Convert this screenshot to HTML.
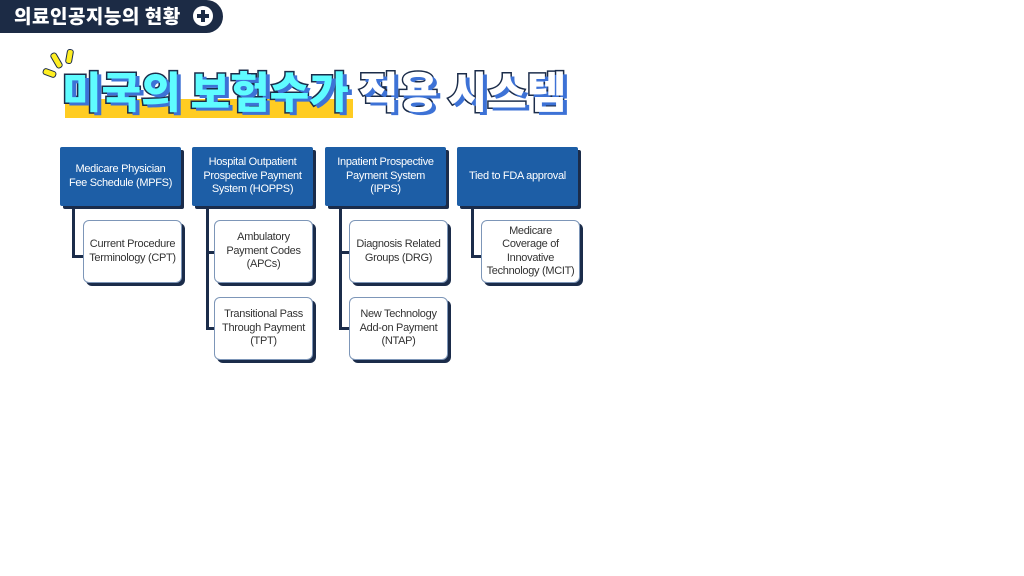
<!DOCTYPE html>
<html><head><meta charset="utf-8"><style>
body{margin:0;width:1024px;height:576px;background:#fff;position:relative;overflow:hidden;font-family:"Liberation Sans","Noto Sans CJK KR",sans-serif}
.tab{position:absolute;left:0;top:0;width:223px;height:33px;background:#1c2b45;border-radius:0 17px 17px 0}
.tab span{position:absolute;left:14px;top:3px;color:#fff;font-family:"Noto Sans CJK KR",sans-serif;font-weight:900;font-size:19px;letter-spacing:0.5px;line-height:26px}
.plus{position:absolute;left:193px;top:6px;width:20px;height:20px;border-radius:50%;background:#fff}
.plus:before{content:"";position:absolute;left:4px;top:8px;width:12px;height:4px;background:#1c2b45}
.plus:after{content:"";position:absolute;left:8px;top:4px;width:4px;height:12px;background:#1c2b45}
.bar{position:absolute;left:65px;top:99px;width:288px;height:19px;background:#ffcc22}
.title{position:absolute;left:62px;top:60px;font-family:"Noto Sans CJK KR",sans-serif;font-weight:900;font-size:43px;line-height:60px;letter-spacing:0px;white-space:nowrap;-webkit-text-stroke:3px #1b2c4a;paint-order:stroke fill;text-shadow:4px 3px 0 #3d72d6}
.c{color:#5ffcff}.w{color:#fff}
.sp{position:absolute;width:5px;height:15px;background:#ffee22;border:1.5px solid #1b2c4a;border-radius:3px}
.h{position:absolute;top:147px;width:121px;height:59px;background:#1d5ea6;box-shadow:3px 3px 0 #1b2c4a;color:#fff;font-size:11px;line-height:13.5px;display:flex;align-items:center;justify-content:center;text-align:center;letter-spacing:-0.3px;border-radius:2px}
.b{position:absolute;width:97px;height:61px;background:#fff;border:1px solid #7d96b8;border-radius:6px;box-shadow:3px 3px 0 #1b2c4a;color:#333;font-size:11px;line-height:13.5px;display:flex;align-items:center;justify-content:center;text-align:center;letter-spacing:-0.3px}
.l{position:absolute;background:#1b2c4a}
</style></head><body>
<div class="tab"><span>의료인공지능의 현황</span></div><div class="plus"></div>
<div class="sp" style="left:53px;top:52px;transform:rotate(-30deg)"></div>
<div class="sp" style="left:66px;top:49px;transform:rotate(10deg);height:13px"></div>
<div class="sp" style="left:46px;top:66px;transform:rotate(-70deg);height:12px"></div>
<div class="bar"></div>
<div class="title"><span class="c">미국의 보험수가</span> <span class="w">적용 시스템</span></div>

<div class="l" style="left:72px;top:206px;width:3px;height:52px"></div>
<div class="l" style="left:72px;top:255px;width:12px;height:3px"></div>
<div class="l" style="left:206px;top:206px;width:3px;height:124px"></div>
<div class="l" style="left:206px;top:251px;width:9px;height:3px"></div>
<div class="l" style="left:206px;top:327px;width:9px;height:3px"></div>
<div class="l" style="left:339px;top:206px;width:3px;height:124px"></div>
<div class="l" style="left:339px;top:251px;width:11px;height:3px"></div>
<div class="l" style="left:339px;top:327px;width:11px;height:3px"></div>
<div class="l" style="left:471px;top:206px;width:3px;height:52px"></div>
<div class="l" style="left:471px;top:255px;width:11px;height:3px"></div>

<div class="h" style="left:60px">Medicare Physician<br>Fee Schedule (MPFS)</div>
<div class="h" style="left:192px">Hospital Outpatient<br>Prospective Payment<br>System (HOPPS)</div>
<div class="h" style="left:325px">Inpatient Prospective<br>Payment System<br>(IPPS)</div>
<div class="h" style="left:457px">Tied to FDA approval</div>

<div class="b" style="left:83px;top:220px">Current Procedure<br>Terminology (CPT)</div>
<div class="b" style="left:214px;top:220px">Ambulatory<br>Payment Codes<br>(APCs)</div>
<div class="b" style="left:214px;top:297px">Transitional Pass<br>Through Payment<br>(TPT)</div>
<div class="b" style="left:349px;top:220px">Diagnosis Related<br>Groups (DRG)</div>
<div class="b" style="left:349px;top:297px">New Technology<br>Add-on Payment<br>(NTAP)</div>
<div class="b" style="left:481px;top:220px">Medicare<br>Coverage of<br>Innovative<br>Technology (MCIT)</div>
</body></html>
